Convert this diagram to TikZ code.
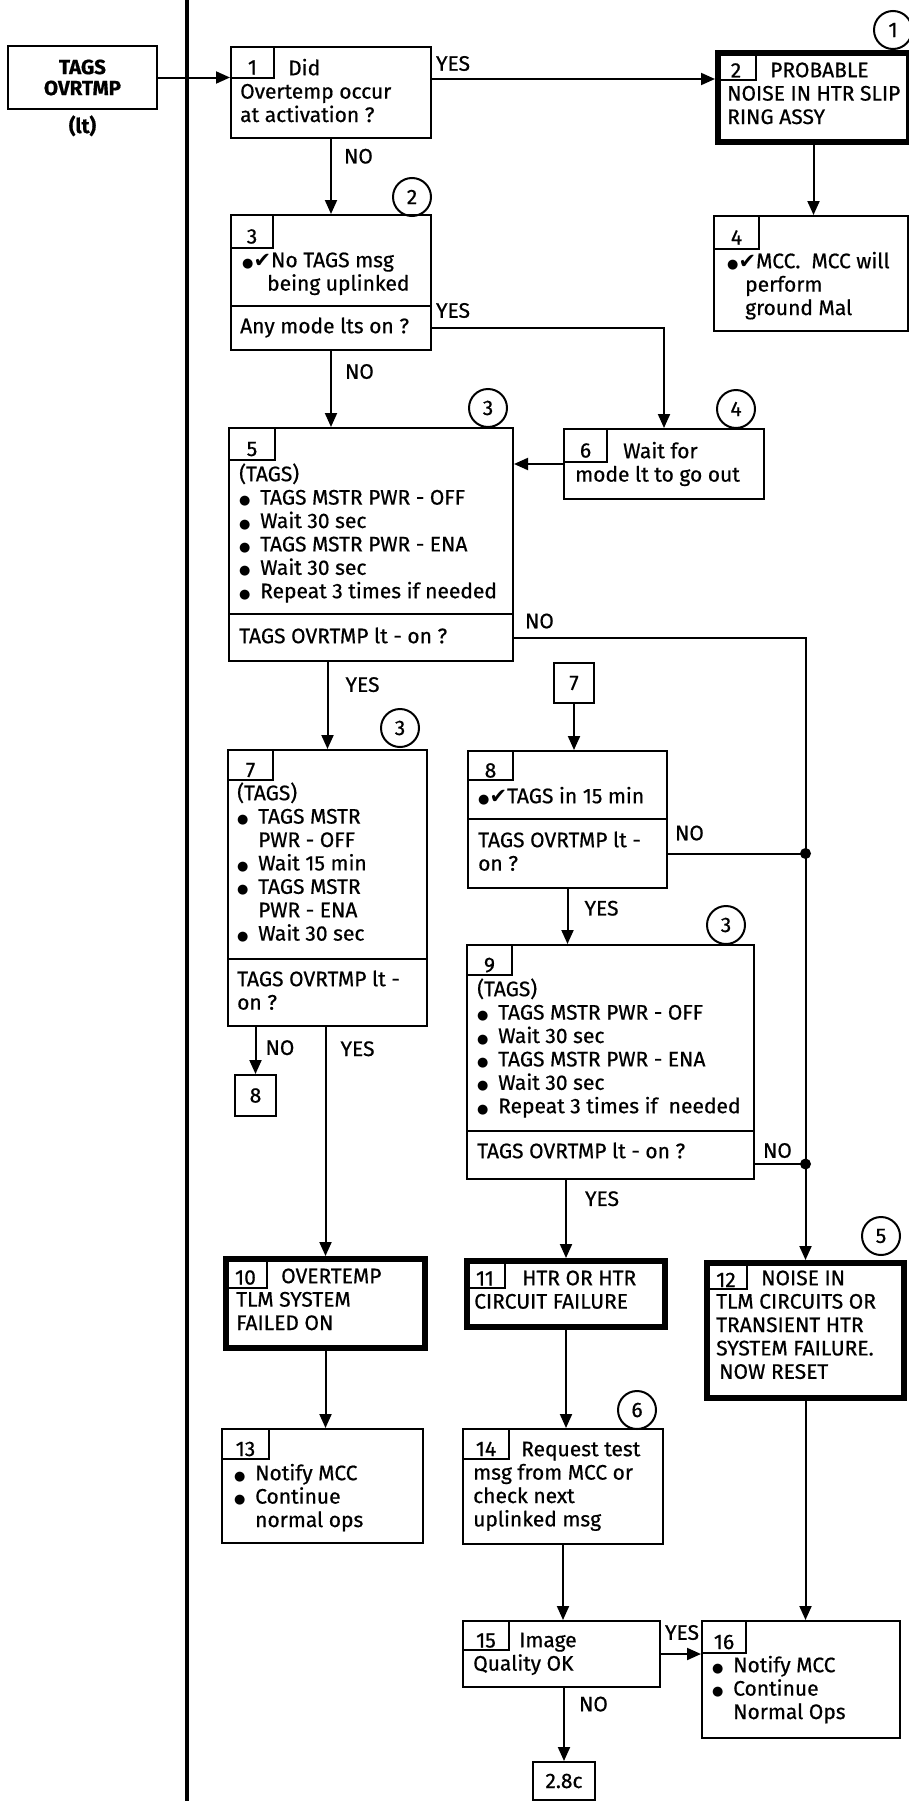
\documentclass[tikz,border=0pt]{standalone}
\usepackage{fontspec}
\setmainfont{Fira Sans}[FakeBold=0.6]
\newfontfamily\symfont{DejaVu Sans}
\usetikzlibrary{arrows.meta,positioning}

\newcommand{\bdot}{{\symfont\fontsize{13}{13}\selectfont ●}}
\newcommand{\chk}{{\symfont ✔}}
\newcommand{\itm}{\makebox[21pt][l]{\bdot}}
\newcommand{\fl}{\rule{0pt}{19pt}}

\tikzset{
  box/.style={draw, line width=2pt, anchor=north west, inner sep=0pt},
  heavy/.style={box, line width=6pt},
  tab/.style={draw, line width=2pt, anchor=north west, inner sep=0pt,
    minimum width=#1, minimum height=31pt, text height=26pt, text depth=2pt},
  tab/.default=44pt,
  txt/.style={anchor=north west, yshift=19pt, align=left, inner sep=0pt},
  circ/.style={draw, circle, line width=2pt, minimum size=38pt, inner sep=0pt},
  lbl/.style={inner sep=0pt},
  link/.style={->, line width=2pt},
  boldtext/.style={font=\fontsize{20.5}{21}\selectfont\bfseries},
}

\begin{document}
\begin{tikzpicture}[x=1pt, y=-1pt, >={Triangle[length=14pt, width=12pt]},
    font=\fontsize{21}{23.4}\selectfont]
    \useasboundingbox (0,0) rectangle (909,1801);
    \fill[white] (0,0) rectangle (909,1801);

    % Ligne de separation
    \draw[line width=3.2pt] (187,0) -- (187,1801);

    % Depart
    \node[box, boldtext, anchor=center, align=center, minimum width=149pt, minimum height=63pt] (start) at (82.5,77.5) {TAGS\\OVRTMP};
    \node[lbl, boldtext, anchor=base] (lt) at ([yshift=-23pt]start.south) {(lt)};

    % Boite 1
    \node[box, minimum width=200pt, minimum height=91pt] (b1) at (230,46) {};
    \node[tab=43pt] (n1) at (b1.north west) {1};
    \node[txt] (t1) at (240,75) {\fl\hspace*{48pt}Did\\Overtemp occur\\at activation ?};

    % Boite 2
    \node[heavy, minimum width=191pt, minimum height=89pt] (b2) at (715,50) {};
    \node[tab=40pt, minimum height=29pt] (n2) at (b2.north west) {2};
    \node[txt] (t2) at (727,77) {\fl\hspace*{43pt}PROBABLE\\NOISE IN HTR SLIP\\RING ASSY};
    \node[circ] (k1) at (893,30) {1};

    % Boite 4
    \node[box, minimum width=194pt, minimum height=115pt] (b4) at (713,215) {};
    \node[tab=45pt, minimum height=33pt] (n4) at (b4.north west) {4};
    \node[txt] (t4) at (727,268) {\fl\bdot\chk{}MCC.\ \ MCC will\\\hspace*{18pt}perform\\\hspace*{18pt}ground Mal};

    % Boite 3
    \node[box, minimum width=200pt, minimum height=91pt] (b3) at (230,214) {};
    \node[box, minimum width=200pt, minimum height=44pt] (q3) at (230,305) {};
    \node[tab=42pt, minimum height=33pt] (n3) at (b3.north west) {3};
    \node[txt] (t3) at (242,267) {\fl\bdot\chk{}No TAGS msg\\\hspace*{25pt}being uplinked};
    \node[txt] (tq3) at (240,333) {\fl Any mode lts on ?};
    \node[circ] (k2) at (412,197) {2};

    % Boite 5
    \node[box, minimum width=284pt, minimum height=186pt] (b5) at (228,427) {};
    \node[box, minimum width=284pt, minimum height=47pt] (q5) at (228,613) {};
    \node[tab=46pt, minimum height=32pt] (n5) at (b5.north west) {5};
    \node[txt] (t5) at (239,481) {\fl(TAGS)\\\itm TAGS MSTR PWR - OFF\\\itm Wait 30 sec\\\itm TAGS MSTR PWR - ENA\\\itm Wait 30 sec\\\itm Repeat 3 times if needed};
    \node[txt] (tq5) at (239,643) {\fl TAGS OVRTMP lt - on ?};
    \node[circ] (k3a) at (488,408) {3};

    % Boite 6
    \node[box, minimum width=200pt, minimum height=70pt] (b6) at (563,428) {};
    \node[tab=43pt, minimum height=33pt] (n6) at (b6.north west) {6};
    \node[txt] (t6) at (575,458) {\fl\hspace*{48pt}Wait for\\mode lt to go out};
    \node[circ] (k4) at (736,409) {4};

    % Boite 7
    \node[box, minimum width=199pt, minimum height=209pt] (b7) at (227,749) {};
    \node[box, minimum width=199pt, minimum height=67pt] (q7) at (227,958) {};
    \node[tab=45pt, minimum height=30pt] (n7) at (b7.north west) {7};
    \node[txt] (t7) at (237,800) {\fl(TAGS)\\\itm TAGS MSTR\\\hspace*{21pt}PWR - OFF\\\itm Wait 15 min\\\itm TAGS MSTR\\\hspace*{21pt}PWR - ENA\\\itm Wait 30 sec};
    \node[txt] (tq7) at (237,986) {\fl TAGS OVRTMP lt -\\on ?};
    \node[circ] (k3b) at (400,728) {3};

    % Renvois 7 et 8
    \node[box, anchor=center, minimum width=40pt, minimum height=40pt] (c7) at (574,683) {7};
    \node[box, anchor=center, minimum width=41pt, minimum height=41pt] (c8) at (255.5,1095.5) {8};

    % Boite 8
    \node[box, minimum width=199pt, minimum height=68pt] (b8) at (467,750) {};
    \node[box, minimum width=199pt, minimum height=69pt] (q8) at (467,818) {};
    \node[tab=45pt, minimum height=29pt] (n8) at (b8.north west) {8};
    \node[txt] (t8) at (478,803) {\fl\bdot\chk{}TAGS in 15 min};
    \node[txt] (tq8) at (478,847) {\fl TAGS OVRTMP lt -\\on ?};

    % Boite 9
    \node[box, minimum width=287pt, minimum height=186pt] (b9) at (466,944) {};
    \node[box, minimum width=287pt, minimum height=48pt] (q9) at (466,1130) {};
    \node[tab=45pt, minimum height=30pt] (n9) at (b9.north west) {9};
    \node[txt] (t9) at (477,996) {\fl(TAGS)\\\itm TAGS MSTR PWR - OFF\\\itm Wait 30 sec\\\itm TAGS MSTR PWR - ENA\\\itm Wait 30 sec\\\itm Repeat 3 times if\ \ needed};
    \node[txt] (tq9) at (477,1158) {\fl TAGS OVRTMP lt - on ?};
    \node[circ] (k3c) at (726,925) {3};

    % Boites 10, 11, 12
    \node[heavy, minimum width=199pt, minimum height=89pt] (b10) at (223,1256) {};
    \node[tab=43pt] (n10) at (b10.north west) {10};
    \node[txt] (t10) at (236,1283) {\fl\hspace*{45pt}OVERTEMP\\TLM SYSTEM\\FAILED ON};

    \node[heavy, minimum width=198pt, minimum height=66pt] (b11) at (464,1258) {};
    \node[tab=40pt, minimum height=29pt] (n11) at (b11.north west) {11};
    \node[txt] (t11) at (474,1285) {\fl\hspace*{48pt}HTR OR HTR\\CIRCUIT FAILURE};

    \node[heavy, minimum width=197pt, minimum height=135pt] (b12) at (704,1260) {};
    \node[tab=42pt, minimum height=28pt] (n12) at (b12.north west) {12};
    \node[txt] (t12) at (716,1285) {\fl\hspace*{45pt}NOISE IN\\TLM CIRCUITS OR\\TRANSIENT HTR\\SYSTEM FAILURE.\\\hspace*{3pt}NOW RESET};
    \node[circ] (k5) at (881,1236) {5};

    % Boites 13, 14
    \node[box, minimum width=201pt, minimum height=114pt] (b13) at (221,1428) {};
    \node[tab=47pt, minimum height=30pt] (n13) at (b13.north west) {13};
    \node[txt] (t13) at (234,1480) {\fl\itm Notify MCC\\\itm Continue\\\hspace*{21pt}normal ops};

    \node[box, minimum width=200pt, minimum height=115pt] (b14) at (462,1428) {};
    \node[tab=46pt, minimum height=30pt] (n14) at (b14.north west) {14};
    \node[txt] (t14) at (473,1456) {\fl\hspace*{48pt}Request test\\msg from MCC or\\check next\\uplinked msg};
    \node[circ] (k6) at (637,1410) {6};

    % Boites 15, 16
    \node[box, minimum width=197pt, minimum height=66pt] (b15) at (462,1620) {};
    \node[tab=46pt, minimum height=29pt] (n15) at (b15.north west) {15};
    \node[txt] (t15) at (473,1647) {\fl\hspace*{46pt}Image\\Quality OK};

    \node[box, minimum width=198pt, minimum height=117pt] (b16) at (701,1620) {};
    \node[tab=44pt, minimum height=32pt] (n16) at (b16.north west) {16};
    \node[txt] (t16) at (712,1672) {\fl\itm Notify MCC\\\itm Continue\\\hspace*{21pt}Normal Ops};

    % Renvoi 2.8c
    \node[box, anchor=center, minimum width=62pt, minimum height=38pt] (c28) at (564,1781) {2.8c};

    % Liaisons
    \draw[link] (start.east) -- (start.east -| b1.west);
    \draw[link] (b1.east |- n1.south) -- (b2.west |- n1.south) node[lbl, pos=0, above right=7pt and 3pt] (y1) {YES};
    \draw[link] (b1.south) -- (b3.north) node[lbl, pos=0.23, right=12pt] (o1) {NO};
    \draw[link] (b2.south) -- (b2.south |- b4.north);
    \draw[link] (q3.south) -- (q3.south |- b5.north) node[lbl, pos=0.27, right=13pt] (o3) {NO};
    \draw[link] (q3.east) -| (b6.north) node[lbl, pos=0, above right=9pt and 3pt] (y3) {YES};
    \draw[link] (b6.west) -- (b6.west -| b5.east);
    \draw[link] (q5.east) -| (b12.north) node[lbl, pos=0, above right=8pt and 10pt] (o5) {NO};
    \draw[link] (q5.south -| b7.north) -- (b7.north) node[lbl, pos=0.26, right=17pt] (y5) {YES};
    \draw[link] (q7.south -| c8.north) -- (c8.north) node[lbl, pos=0.44, right=9pt] (o7) {NO};
    \draw[link] (q7.south -| b10.north) -- (b10.north) node[lbl, pos=0.095, right=14pt] (y7) {YES};
    \draw[link] (c7.south) -- (c7.south |- b8.north);

    % Jonctions sur la ligne NO
    \coordinate (j1) at (b12.north |- q8.east);
    \coordinate (q9no) at ([yshift=-9pt]q9.east);
    \coordinate (j2) at (b12.north |- q9no);
    \draw[line width=2pt] (q8.east) -- (j1) node[lbl, pos=0, above right=12pt and 6pt] (o8) {NO};
    \draw[line width=2pt] (q9no) -- (j2) node[lbl, pos=0, above right=5pt and 7pt] (o9) {NO};
    \fill (j1) circle (5.5pt);
    \fill (j2) circle (5.5pt);

    \draw[link] (q8.south) -- (q8.south |- b9.north) node[lbl, pos=0.35, right=16pt] (y8) {YES};
    \draw[link] (q9.south -| b11.north) -- (b11.north) node[lbl, pos=0.24, right=18pt] (y9) {YES};
    \draw[link] (b10.south) -- (b10.south |- b13.north);
    \draw[link] (b11.south) -- (b11.south |- b14.north);
    \draw[link] (b12.south) -- (b12.south |- b16.north);
    \draw[link] (b14.south) -- (b14.south |- b15.north);
    \draw[link] (b15.east) -- (b15.east -| b16.west) node[lbl, pos=1, above left=13pt and 1pt] (y15) {YES};
    \draw[link] (b15.south -| c28.north) -- (c28.north) node[lbl, pos=0.22, right=14pt] (o15) {NO};
\end{tikzpicture}
\end{document}
